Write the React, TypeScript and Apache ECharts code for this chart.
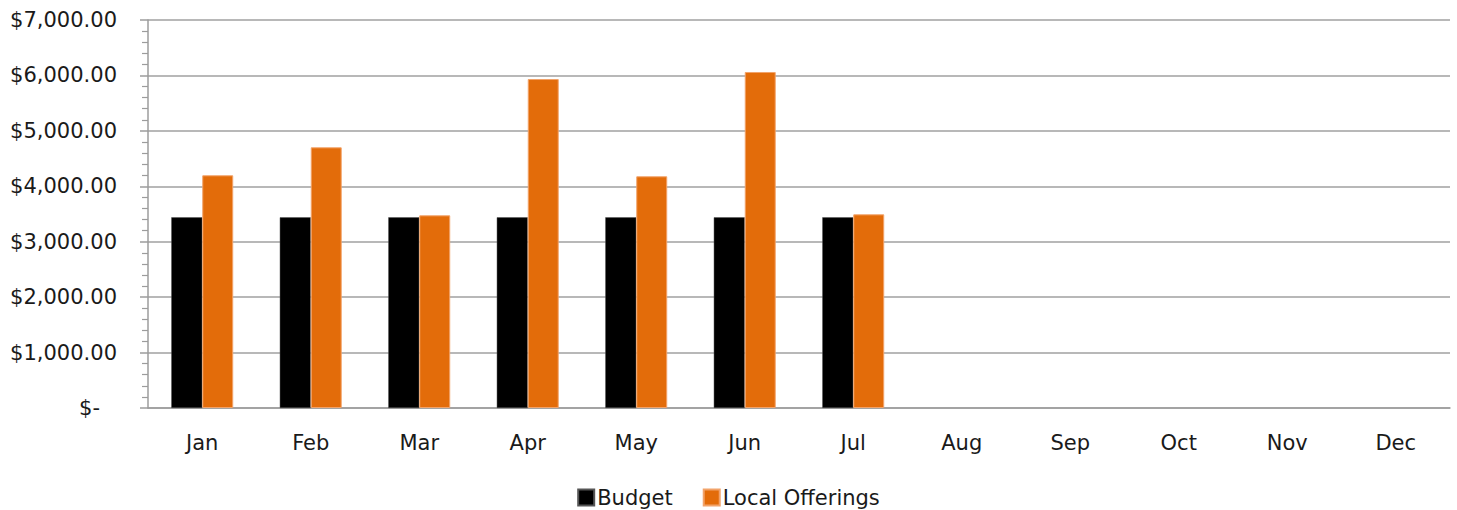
import React, { useEffect, useRef } from "react";
import * as echarts from "echarts";

const months = ["Jan", "Feb", "Mar", "Apr", "May", "Jun", "Jul", "Aug", "Sep", "Oct", "Nov", "Dec"];
const budget = [3440, 3440, 3440, 3440, 3440, 3440, 3440, null, null, null, null, null];
const localOfferings = [4198, 4703, 3476, 5935, 4180, 6062, 3494, null, null, null, null, null];
const yTicks = { min: 0, max: 7000, interval: 1000 };

const FONT = "DejaVu Sans";
const TEXT = "#1a1a1a";

export default function App() {
  const ref = useRef<HTMLDivElement>(null);
  useEffect(() => {
    if (!ref.current) return;
    const chart = echarts.init(ref.current, null, { renderer: "svg" });
    chart.setOption({
      animation: false,
      backgroundColor: "#ffffff",
      grid: { left: 148, right: 7, top: 20, bottom: 102, containLabel: false },
      legend: {
        bottom: -3,
        left: "center",
        itemWidth: 16,
        itemHeight: 16,
        itemGap: 30,
        icon: "rect",
        textStyle: { fontFamily: FONT, fontSize: 21, color: TEXT, padding: [0, 0, 0, -2] },
        data: ["Budget", "Local Offerings"],
      },
      xAxis: {
        type: "category",
        data: months,
        axisLine: { show: true, lineStyle: { color: "#9c9c9c", width: 1.5 } },
        axisTick: { show: false },
        axisLabel: { fontFamily: FONT, fontSize: 21, color: TEXT, margin: 24 },
      },
      yAxis: {
        type: "value",
        min: yTicks.min,
        max: yTicks.max,
        interval: yTicks.interval,
        axisLine: { show: true, lineStyle: { color: "#9c9c9c", width: 1.5 } },
        axisTick: { show: true, length: 8, lineStyle: { color: "#9c9c9c", width: 1.5 } },
        minorTick: { show: true, splitNumber: 5, length: 6, lineStyle: { color: "#9c9c9c", width: 1.2 } },
        splitLine: { show: true, lineStyle: { color: "#a0a0a0", width: 1.5 } },
        axisLabel: {
          fontFamily: FONT,
          fontSize: 21,
          color: TEXT,
          margin: 31,
          formatter: (v: number) =>
            v === 0
              ? "{z|$-}"
              : "$" + v.toLocaleString("en-US", { minimumFractionDigits: 2, maximumFractionDigits: 2 }),
          rich: { z: { fontFamily: FONT, fontSize: 21, color: TEXT, padding: [0, 17, 0, 0] } },
        },
      },
      series: [
        {
          name: "Budget",
          type: "bar",
          data: budget,
          barGap: "0%",
          barCategoryGap: "42.9%",
          itemStyle: { color: "#000000", borderColor: "#555555", borderWidth: 0.5 },
        },
        {
          name: "Local Offerings",
          type: "bar",
          data: localOfferings,
          barGap: "0%",
          barCategoryGap: "42.9%",
          itemStyle: { color: "#E36C0A", borderColor: "#F2A36A", borderWidth: 1 },
        },
      ],
    });
    return () => chart.dispose();
  }, []);
  return (
    <div
      ref={ref}
      style={{ position: "fixed", left: 0, top: 0, width: 1457, height: 510 }}
    />
  );
}
